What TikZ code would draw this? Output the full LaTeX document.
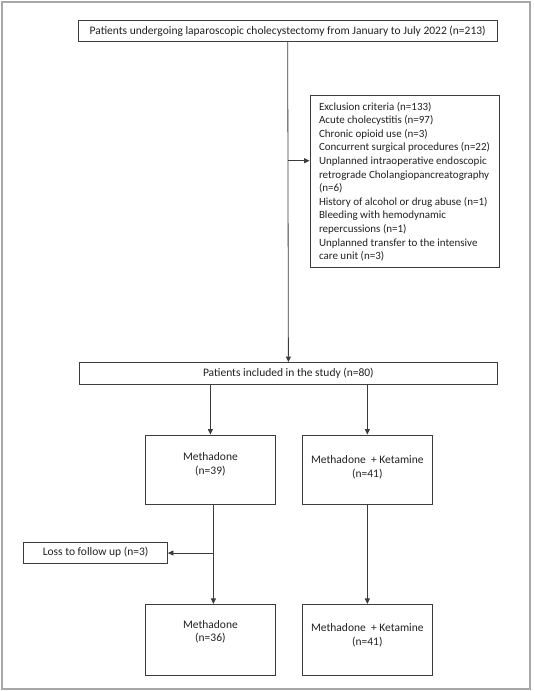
\documentclass[tikz,border=0pt]{standalone}
\usepackage{fontspec}
\setmainfont{Carlito}
\usetikzlibrary{arrows.meta,calc}
\definecolor{boxline}{HTML}{3C3C3C}
\definecolor{frameline}{HTML}{A8A8A8}
\definecolor{txtcol}{HTML}{222222}
\tikzset{
  box/.style={draw=boxline, line width=0.9pt, rectangle, inner sep=0pt, text=txtcol,
              font=\fontsize{11.5}{13.6}\selectfont, align=center},
  txt/.style={text=txtcol, font=\fontsize{11.5}{13.5}\selectfont, align=center, inner sep=0pt},
  arr/.style={draw=boxline, line width=0.8pt, -{Triangle[length=5.5pt,width=5pt]}},
}
\begin{document}
\begin{tikzpicture}[x=1pt,y=-1pt]
\useasboundingbox (0,0) rectangle (533,691);
\fill[white] (0,0) rectangle (533,691);
\draw[frameline, line width=1.6pt] (1.8,1.8) rectangle (530,689);

\node[box, minimum width=418.7pt, minimum height=21pt] (top) at (287.7,31.2)
  {Patients undergoing laparoscopic cholecystectomy from January to July 2022 (n=213)};

\node[box, minimum width=189pt, minimum height=172pt, align=left,
      font=\fontsize{11}{13.6}\selectfont] (excl) at (404.5,181.7)
  {Exclusion criteria (n=133)\\
   Acute cholecystitis (n=97)\\
   Chronic opioid use (n=3)\\
   Concurrent surgical procedures (n=22)\\
   Unplanned intraoperative endoscopic\\
   retrograde Cholangiopancreatography\\
   (n=6)\\
   History of alcohol or drug abuse (n=1)\\
   Bleeding with hemodynamic\\
   repercussions (n=1)\\
   Unplanned transfer to the intensive\\
   care unit (n=3)};

\node[box, minimum width=418.2pt, minimum height=21.5pt] (incl) at (288.4,373.2)
  {Patients included in the study (n=80)};

\node[box, minimum width=129.3pt, minimum height=69pt,
      label={[txt, yshift=5pt]center:Methadone\\(n=39)}] (m1) at (210.4,469.5) {};
\node[box, minimum width=130.1pt, minimum height=69pt,
      label={[txt, yshift=2pt]center:Methadone \ + Ketamine\\(n=41)}] (k1) at (367.35,469.5) {};

\node[box, minimum width=143.7pt, minimum height=21pt] (loss) at (95.6,552.5)
  {Loss to follow up (n=3)};

\node[box, minimum width=129.3pt, minimum height=71pt,
      label={[txt, yshift=8pt]center:Methadone\\(n=36)}] (m2) at (210.4,639.9) {};
\node[box, minimum width=130.1pt, minimum height=71pt,
      label={[txt, yshift=4.5pt]center:Methadone \ + Ketamine\\(n=41)}] (k2) at (367.35,639.9) {};

% connectors
\draw[arr] (top.south) -- (incl.north);
\coordinate (j1) at (287.9,160.7);
\draw[arr] (j1) -- (j1 -| excl.west);

\draw[arr] (incl.south -| m1.north) -- (m1.north);
\draw[arr] (incl.south -| k1.north) -- (k1.north);

\draw[arr] ([xshift=3pt]m1.south) -- ([xshift=3pt]m2.north);
\coordinate (j2) at (213.4,553);
\draw[arr] (j2) -- (j2 -| loss.east);

\draw[arr] (k1.south) -- (k2.north);
\end{tikzpicture}
\end{document}
